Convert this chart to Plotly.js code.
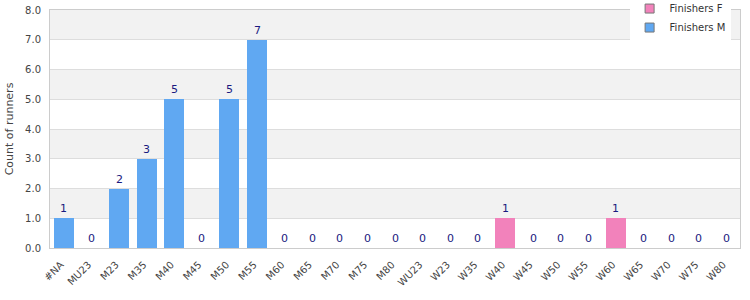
<!DOCTYPE html>
<html><head><meta charset="utf-8">
<script src="https://cdn.plot.ly/plotly-3.0.1.min.js"></script>
<style>html,body{margin:0;padding:0;background:#fff}#chart{width:750px;height:300px}</style>
</head><body><div id="chart"></div>
<script>
const categories = ["#NA","MU23","M23","M35","M40","M45","M50","M55","M60","M65","M70","M75","M80","WU23","W23","W35","W40","W45","W50","W55","W60","W65","W70","W75","W80"];
const finishersM = [1,0,2,3,5,0,5,7,0,0,0,0,0,0,0,0,0,0,0,0,0,0,0,0,0];
const finishersF = [0,0,0,0,0,0,0,0,0,0,0,0,0,0,0,0,1,0,0,0,1,0,0,0,0];
const yTicks = [0,1,2,3,4,5,6,7,8];
const colorF = '#f282bb';
const colorM = '#60a8f2';

const isW = categories.map(c => c.startsWith("W"));
const labelVals = categories.map((c,i) => isW[i] ? finishersF[i] : finishersM[i]);
const labelY = categories.map((c,i) => finishersM[i] + finishersF[i]);

const bands = [];
for (let k = 1; k < yTicks.length - 1; k += 2) {
  bands.push({type:'rect', xref:'paper', yref:'y', x0:0, x1:1, y0:yTicks[k], y1:yTicks[k+1],
    fillcolor:'#f2f2f2', line:{width:0}, layer:'below'});
}

const annotations = categories.map((c,i) => ({
  x:c, y:labelY[i], xref:'x', yref:'y', text:String(labelVals[i]), showarrow:false,
  yanchor:'bottom', yshift:1, font:{family:'DejaVu Sans', size:11, color:'#1a1a80'}
}));

const data = [
  {type:'bar', name:'Finishers F', x:categories, y:finishersF, showlegend:false,
   marker:{color:colorF, line:{width:0}}, hoverinfo:'skip'},
  {type:'bar', name:'Finishers M', x:categories, y:finishersM, showlegend:false,
   marker:{color:colorM, line:{width:0}}, hoverinfo:'skip'},
  {type:'scatter', mode:'markers', name:'Finishers F', x:[null], y:[null],
   marker:{symbol:'square', size:9, color:colorF, line:{color:'#777', width:1}}},
  {type:'scatter', mode:'markers', name:'Finishers M', x:[null], y:[null],
   marker:{symbol:'square', size:9, color:colorM, line:{color:'#777', width:1}}}
];

const layout = {
  width:750, height:300,
  margin:{l:50, r:10, t:10, b:52, autoexpand:false},
  barmode:'stack', bargap:0.275,
  paper_bgcolor:'#fff', plot_bgcolor:'#fff',
  font:{family:'DejaVu Sans', size:10, color:'#444'},
  xaxis:{type:'category', tickangle:-45, showgrid:false, showline:true, linecolor:'#cccccc', mirror:true,
    ticks:'', tickfont:{size:10, color:'#444'}, fixedrange:true, ticklabelstandoff:6, ticklabelshift:-3},
  yaxis:{range:[0,8], tickvals:yTicks, tickformat:'.1f', showgrid:true, gridcolor:'#dddddd',
    showline:true, linecolor:'#cccccc', mirror:true, zeroline:false, ticks:'', ticklabelstandoff:6,
    title:{text:'Count of runners', font:{size:11, color:'#444'}, standoff:9},
    tickfont:{size:10, color:'#444'}},
  shapes:bands,
  annotations:annotations,
  showlegend:true,
  legend:{x:0.84, xanchor:'left', y:1.067, yanchor:'top', bgcolor:'#ffffff', traceorder:'normal',
    font:{size:10, color:'#333'}, itemwidth:30, tracegroupgap:0}
};

Plotly.newPlot('chart', data, layout, {displayModeBar:false, staticPlot:true});
</script></body></html>
